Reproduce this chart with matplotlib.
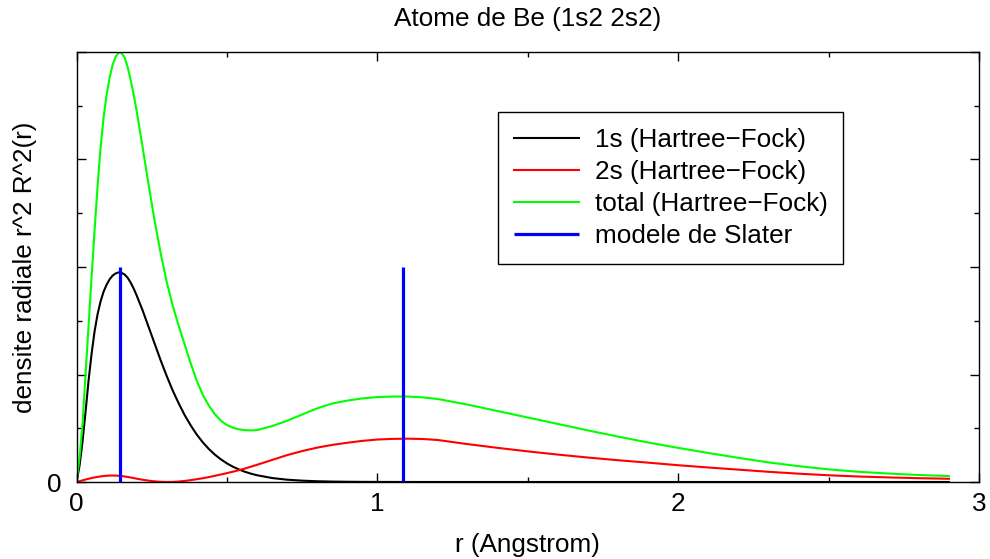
import matplotlib
matplotlib.use("Agg")
import matplotlib.pyplot as plt
from matplotlib.ticker import FixedLocator, FixedFormatter

plt.rcParams['font.family'] = ['Liberation Sans', 'DejaVu Sans']

# radial grid (Angstrom)
r = [0.00, 0.01, 0.02, 0.03, 0.04, 0.05, 0.06, 0.07, 0.08, 0.09,
     0.10, 0.11, 0.12, 0.13, 0.14, 0.15, 0.16, 0.17, 0.18, 0.19,
     0.20, 0.22, 0.24, 0.26, 0.28, 0.30, 0.32, 0.34, 0.36, 0.38,
     0.40, 0.42, 0.44, 0.46, 0.48, 0.50, 0.52, 0.54, 0.56, 0.58,
     0.60, 0.65, 0.70, 0.75, 0.80, 0.85, 0.90, 0.95, 1.00, 1.05,
     1.10, 1.15, 1.20, 1.30, 1.40, 1.50, 1.60, 1.70, 1.80, 1.90,
     2.00, 2.10, 2.20, 2.30, 2.40, 2.50, 2.60, 2.70, 2.80, 2.90]

dens_1s = [0.00, 0.30, 0.75, 1.30, 1.88, 2.38, 2.80, 3.12, 3.36, 3.54,
           3.67, 3.77, 3.84, 3.88, 3.90, 3.89, 3.86, 3.80, 3.71, 3.60,
           3.47, 3.19, 2.88, 2.57, 2.26, 1.97, 1.70, 1.46, 1.24, 1.05,
           0.88, 0.737, 0.614, 0.509, 0.421, 0.346, 0.284, 0.233, 0.190, 0.155,
           0.126, 0.074, 0.043, 0.025, 0.014, 0.008, 0.0045, 0.0025, 0.0014, 0.0008,
           0.0004, 0.0002, 0.0001, 0.0, 0.0, 0.0, 0.0, 0.0, 0.0, 0.0,
           0.0, 0.0, 0.0, 0.0, 0.0, 0.0, 0.0, 0.0, 0.0, 0.0]

dens_2s = [0.000, 0.015, 0.030, 0.046, 0.060, 0.073, 0.085, 0.095, 0.104, 0.111,
           0.116, 0.119, 0.120, 0.119, 0.116, 0.110, 0.103, 0.094, 0.084, 0.073,
           0.062, 0.042, 0.025, 0.012, 0.004, 0.0005, 0.002, 0.009, 0.020, 0.035,
           0.052, 0.070, 0.092, 0.115, 0.140, 0.165, 0.192, 0.220, 0.250, 0.285,
           0.320, 0.410, 0.500, 0.575, 0.640, 0.690, 0.730, 0.765, 0.790, 0.802,
           0.806, 0.800, 0.782, 0.705, 0.635, 0.570, 0.510, 0.455, 0.405, 0.360,
           0.312, 0.270, 0.230, 0.190, 0.155, 0.125, 0.102, 0.085, 0.071, 0.060]

dens_total = [0.00, 0.45, 1.08, 2.00, 2.90, 3.80, 4.67, 5.50, 6.22, 6.78,
              7.20, 7.52, 7.76, 7.91, 7.99, 7.98, 7.90, 7.72, 7.48, 7.21,
              6.90, 6.22, 5.52, 4.85, 4.25, 3.72, 3.28, 2.90, 2.55, 2.20,
              1.88, 1.62, 1.42, 1.26, 1.14, 1.06, 1.01, 0.98, 0.965, 0.96,
              0.965, 1.04, 1.14, 1.255, 1.37, 1.46, 1.515, 1.555, 1.58, 1.59,
              1.59, 1.575, 1.545, 1.44, 1.32, 1.20, 1.08, 0.96, 0.845, 0.735,
              0.635, 0.54, 0.45, 0.365, 0.295, 0.235, 0.19, 0.157, 0.13, 0.11]

slater_r = [0.1445, 1.086]
slater_h = [4.0, 4.0]

xticks_major = [0, 1, 2, 3]
xticks_minor = [0.5, 1.5, 2.5]
yticks_major = [0, 2, 4, 6, 8]
yticks_minor = [1, 3, 5, 7]
ytick_labels = ['0', '', '', '', '']

fig = plt.figure(figsize=(9.9, 5.59), dpi=100)
ax = fig.add_axes([76.5 / 990, 1 - 482 / 559, (979 - 76.5) / 990, (482 - 52) / 559])

fs = 18.8
ax.plot(r, dens_1s, color='black', lw=1.5, label='1s (Hartree\u2212Fock)')
ax.plot(r, dens_2s, color='#ff0000', lw=1.5, label='2s (Hartree\u2212Fock)')
ax.plot(r, dens_total, color='#00ff00', lw=1.5, label='total (Hartree\u2212Fock)')
ax.vlines(slater_r, 0, slater_h, color='#0000ff', lw=2.3, label='modele de Slater')

ax.set_xlim(0, 3)
ax.set_ylim(0, 8)

ax.xaxis.set_major_locator(FixedLocator(xticks_major))
ax.xaxis.set_minor_locator(FixedLocator(xticks_minor))
ax.yaxis.set_major_locator(FixedLocator(yticks_major))
ax.yaxis.set_major_formatter(FixedFormatter(ytick_labels))
ax.yaxis.set_minor_locator(FixedLocator(yticks_minor))

ax.tick_params(which='both', direction='in', top=True, right=True, width=1.0, colors='black')
ax.tick_params(which='major', length=6.7)
ax.tick_params(which='minor', length=3.6)
ax.tick_params(axis='x', which='major', labelsize=fs, pad=7)
ax.tick_params(axis='y', which='major', labelsize=fs, pad=11)

for s in ax.spines.values():
    s.set_linewidth(1.0)
    s.set_color('black')

ax.text(0.5, 1 + (52 - 19) / 430, 'Atome de Be (1s2 2s2)', transform=ax.transAxes,
        ha='center', va='center', fontsize=fs)
ax.set_xlabel('r (Angstrom)', fontsize=fs, va='center')
ax.xaxis.set_label_coords(0.5, -(545 - 482) / 430)
ax.set_ylabel('densite radiale r^2 R^2(r)', fontsize=fs, va='center')
ax.yaxis.set_label_coords((25 - 76.5) / 902.5, 0.5)

leg = ax.legend(loc='upper left', bbox_to_anchor=((498 - 76.5) / 902.5, (482 - 112) / 430),
                borderaxespad=0, fontsize=fs, frameon=True, fancybox=False,
                edgecolor='black', framealpha=1, borderpad=0.6, labelspacing=0.31,
                handlelength=2.5, handletextpad=0.6)
leg.get_frame().set_linewidth(1.0)

fig.savefig('out.png', dpi=100)
